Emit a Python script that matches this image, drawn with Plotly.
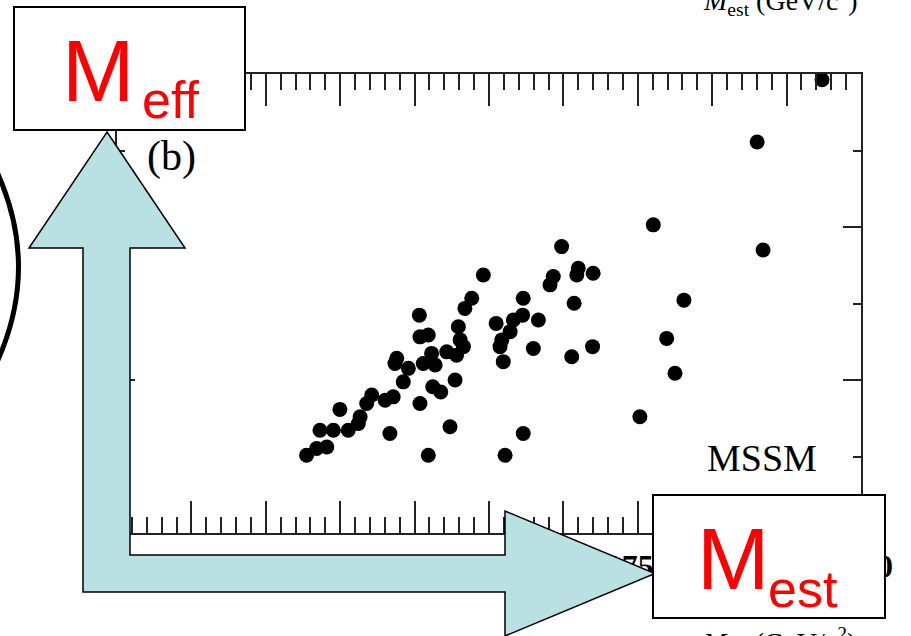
import plotly.graph_objects as go

# ---- data ----
m_eff = [637, 671, 705, 682, 727, 749, 777, 811, 817, 839, 856, 901, 928, 917, 934, 940,
         962, 979, 1018, 1016, 1018, 1046, 1029, 1057, 1069, 1061, 1088, 1046, 1108, 1119,
         1136, 1141, 1147, 1153, 1164, 1169, 1192, 1231, 1274, 1293, 1298, 1321, 1332, 1365,
         1363, 1304, 1365, 1399, 1416, 1455, 1466, 1494, 1545, 1550, 1536, 1528, 1600, 1598,
         1802, 1757, 1847, 1875, 1905, 1287, 2151, 2171, 2369]
m_est = [254, 276, 281, 336, 336, 404, 336, 358, 380, 423, 451, 434, 445, 325, 554, 571,
         494, 538, 423, 712, 641, 647, 554, 587, 549, 478, 461, 254, 592, 347,
         500, 581, 674, 631, 609, 734, 767, 843, 685, 631, 560, 658, 696, 767,
         712, 254, 325, 603, 696, 811, 838, 936, 843, 865, 751, 576, 849, 609,
         1007, 380, 636, 522, 761, 609, 1278, 925, 1481]
x_ticks = [250, 500, 750, 1000, 1250, 1500, 1750, 2000, 2250, 2500]
x_tick_text = ["250", "500", "750", "1000", "1250", "1500", "1750", "2000", "2250", "2500"]

W, H = 911, 636
L, R, T, B = 117, 861, 74, 533


def px(x):
    return (x - L) / (R - L)


def py(y):
    return (B - y) / (B - T)


fig = go.Figure()
fig.add_trace(go.Scatter(x=m_eff, y=m_est, mode="markers",
                         marker=dict(color="black", size=15, line=dict(width=0)),
                         showlegend=False, hoverinfo="skip"))

axis_common = dict(showline=True, linecolor="#222", linewidth=2, mirror="allticks",
                   ticks="inside", tickcolor="#222", tickwidth=1.5, showgrid=False,
                   zeroline=False)

fig.update_xaxes(range=[0, 2500], tickvals=x_ticks, ticktext=x_tick_text, ticklen=32,
                 minor=dict(dtick=50, ticklen=16, ticks="inside", tickcolor="#222",
                            tickwidth=1.5, showgrid=False),
                 tickfont=dict(family="Liberation Serif", size=32, color="black", weight="bold"),
                 ticklabelstandoff=4, **axis_common)
fig.update_yaxes(range=[0, 1500], dtick=500, ticklen=18, showticklabels=False,
                 minor=dict(dtick=250, ticklen=8, ticks="inside", tickcolor="#222",
                            tickwidth=1.5, showgrid=False),
                 **axis_common)


def path(points):
    s = "M " + " L ".join(f"{px(x):.5f},{py(y):.5f}" for x, y in points) + " Z"
    return s


arrow = [(107, 132), (185, 248), (130, 248), (130, 555), (505, 555), (505, 511),
         (655, 573.5), (505, 636), (505, 592), (83, 592), (83, 248), (29, 248)]

shapes = [
    # big parenthesis at left edge
    dict(type="path", xref="paper", yref="paper", layer="above",
         path=f"M {px(-3):.5f},{py(172):.5f} Q {px(40):.5f},{py(267):.5f} {px(-3):.5f},{py(362):.5f}",
         line=dict(color="black", width=5)),
    dict(type="path", xref="paper", yref="paper", layer="above", path=path(arrow),
         fillcolor="#b9e0e3", line=dict(color="black", width=1.5)),
    dict(type="rect", xref="paper", yref="paper", layer="above",
         x0=px(14), x1=px(245), y0=py(130), y1=py(7),
         fillcolor="white", line=dict(color="black", width=2)),
    dict(type="rect", xref="paper", yref="paper", layer="above",
         x0=px(653), x1=px(885), y0=py(618), y1=py(495),
         fillcolor="white", line=dict(color="black", width=2)),
]

red = "#ff0000"
ann = [
    dict(x=px(60), y=py(70), text="M", xanchor="left", yanchor="middle",
         font=dict(family="Liberation Sans", size=87, color=red)),
    dict(x=px(140), y=py(100), text="eff", xanchor="left", yanchor="middle",
         font=dict(family="Liberation Sans", size=52, color=red)),
    dict(x=px(695), y=py(558), text="M", xanchor="left", yanchor="middle",
         font=dict(family="Liberation Sans", size=87, color=red)),
    dict(x=px(766), y=py(589), text="est", xanchor="left", yanchor="middle",
         font=dict(family="Liberation Sans", size=52, color=red)),
    dict(x=px(145), y=py(156), text="(b)", xanchor="left", yanchor="middle",
         font=dict(family="Liberation Serif", size=42, color="black")),
    dict(x=px(762), y=py(458), text="MSSM", xanchor="center", yanchor="middle",
         font=dict(family="Liberation Serif", size=38, color="black")),
    dict(x=px(860), y=py(22), text="<i>M</i><sub>est</sub> (GeV/c<sup>2</sup>)",
         xanchor="right", yanchor="bottom",
         font=dict(family="Liberation Serif", size=28, color="black")),
    dict(x=px(858), y=py(621), text="<i>M</i><sub>eff</sub> (GeV/c<sup>2</sup>)",
         xanchor="right", yanchor="top",
         font=dict(family="Liberation Serif", size=28, color="black")),
]
for a in ann:
    a.update(xref="paper", yref="paper", showarrow=False)

fig.update_layout(width=W, height=H, margin=dict(l=L, r=W - R, t=T, b=H - B),
                  paper_bgcolor="white", plot_bgcolor="white",
                  shapes=shapes, annotations=ann)

fig.write_html("out.html")
